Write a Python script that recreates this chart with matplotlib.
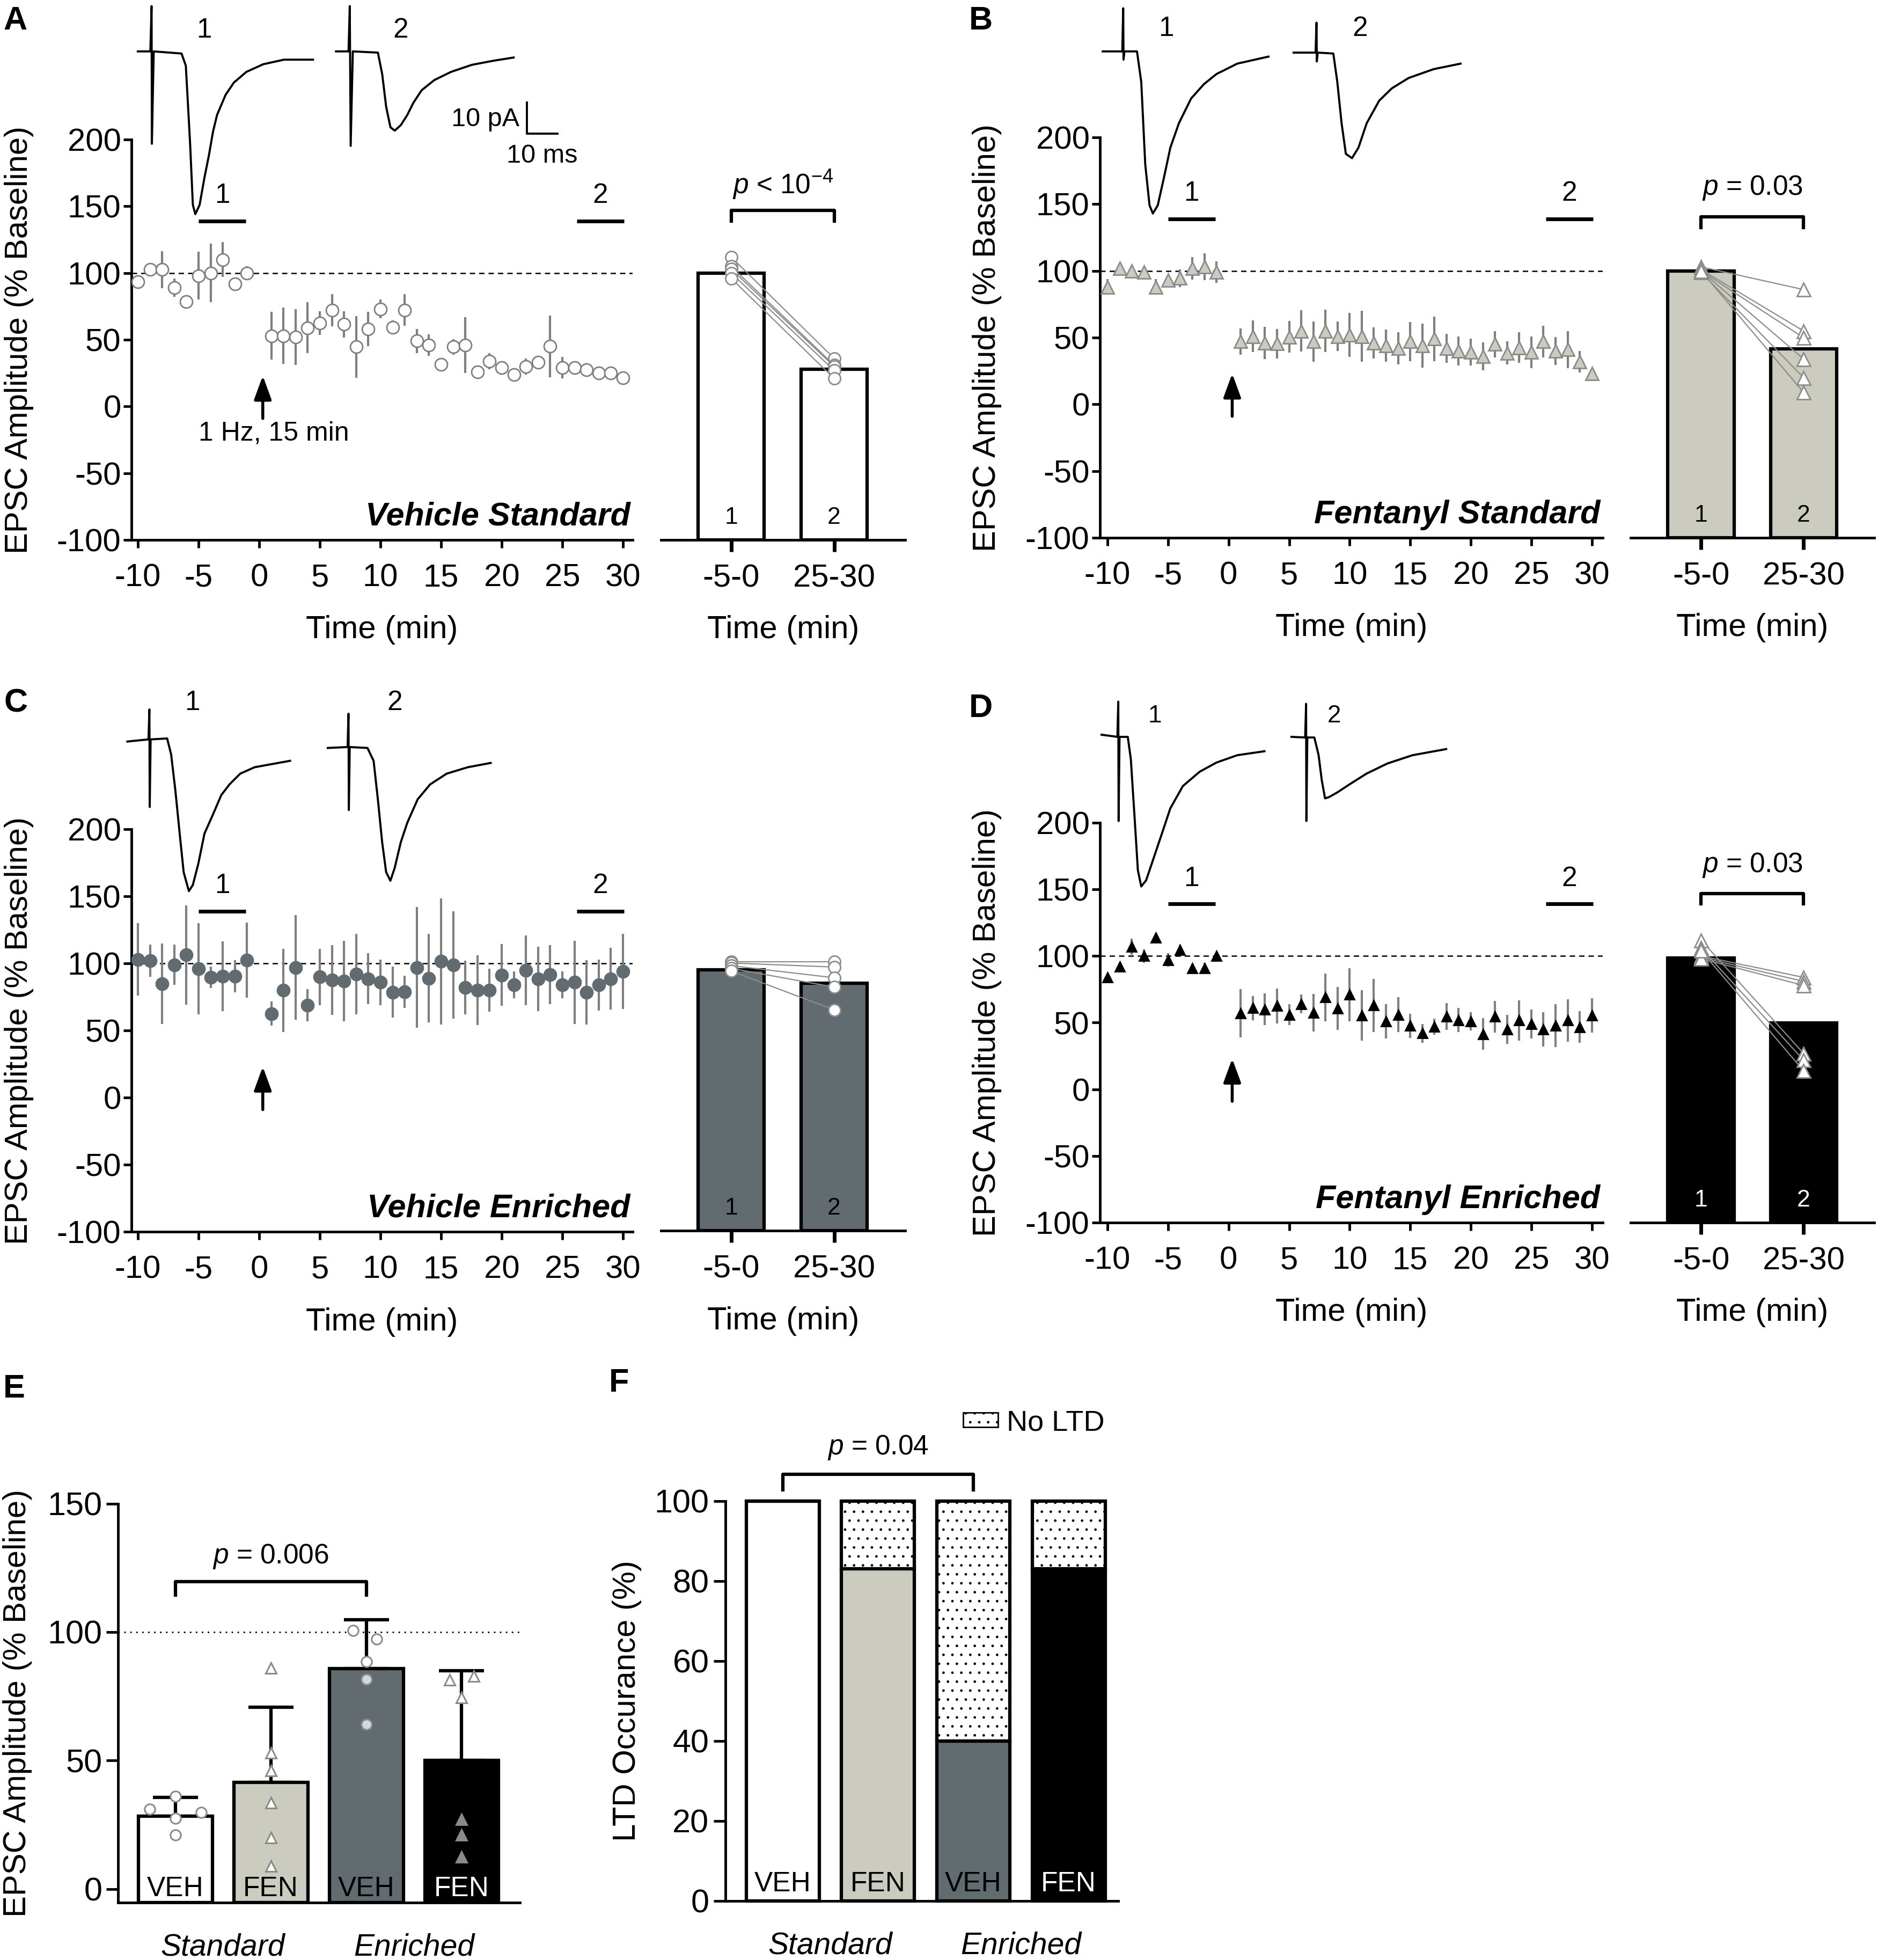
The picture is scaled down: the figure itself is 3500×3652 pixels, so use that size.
import numpy as np
import matplotlib
matplotlib.use('Agg')
import matplotlib.pyplot as plt
from matplotlib.patches import Patch
from matplotlib.transforms import blended_transform_factory

plt.rcParams['font.family'] = ['Liberation Sans', 'DejaVu Sans']
plt.rcParams['mathtext.fontset'] = 'custom'
plt.rcParams['mathtext.rm'] = 'Liberation Sans'
plt.rcParams['mathtext.it'] = 'Liberation Sans:italic'
plt.rcParams['axes.unicode_minus'] = False

# ---------------- data ----------------
times = list(range(-10, 0)) + list(range(1, 31))

A_mean = [93.5, 102.5, 102.5, 89, 78.5, 98, 100, 110, 92, 100,
          53, 53, 52, 59, 62.5, 72, 61.5, 44.6, 58, 73, 59.4, 72.3, 49, 46, 31.4,
          44.6, 46, 26, 34, 29, 24, 30, 33, 45, 29, 29, 27.5, 25, 25, 21.5]
A_sem = [2, 2, 14, 7, 2, 18, 22, 13, 2, 5,
         18, 21, 21, 19, 9, 12, 10, 23, 13, 7, 5, 12, 9, 8, 5,
         6, 21, 4, 6, 4, 3, 6, 2, 23, 8, 4, 3, 5, 4, 4]
B_mean = [88, 102, 100, 99, 88, 93, 94.5, 102, 103, 99,
          47, 51, 46, 45.4, 50.6, 55, 47, 55, 51, 52, 51, 46, 44, 42, 47,
          44, 49, 42, 40, 39, 36, 45, 38.5, 42.5, 39, 47, 40, 41, 32, 23]
B_sem = [6, 2, 2, 2, 6, 3, 6.5, 8.5, 10, 8,
         10, 12, 12, 11, 12, 15.5, 15, 16, 11, 16.5, 19, 11.5, 12, 12, 14.5,
         16.5, 16.5, 11, 11, 10, 10.5, 10, 8.5, 11.5, 12, 12, 10.5, 14, 8, 1]
C_mean = [103, 102, 85, 99, 106.4, 96, 89.5, 90.5, 90.5, 102.5,
          62.6, 80, 97, 69, 90, 87.5, 87, 92, 88.5, 86, 78.5, 79, 97, 89, 101.6,
          99, 82, 80, 80, 91.4, 84, 95, 88.5, 91.5, 84, 86, 78.5, 84, 88.5, 94]
C_sem = [27, 12, 30, 15, 37, 34, 8, 26, 12, 28,
         9, 31, 39, 12, 21, 26, 30, 30, 19, 17, 19, 12, 45, 33, 47,
         40, 20, 26, 16, 23, 10, 26, 24, 22, 10, 31, 24, 19, 23, 28]
D_mean = [84, 92, 107, 100, 114, 97, 104.6, 91, 91, 100,
          57, 61, 60, 62.5, 56, 64, 57.5, 69, 60.6, 71, 55.4, 63, 51, 56, 47.7,
          42, 47, 54.5, 52, 51, 41.5, 54.5, 45, 51.7, 49, 45, 47.7, 51.7, 46.7, 55.4]
D_sem = [3, 3, 6, 5, 3, 5, 4, 3, 4, 3,
         18, 9, 12, 13, 8, 7, 14, 18, 16, 20, 19, 20, 13, 13, 9,
         7, 6, 10, 9, 7, 12, 12, 11, 15, 11, 13, 16, 16, 12, 13]

# example EPSC traces (ms, pA)
trace_A1 = [(1.2, -16.8), (5.3, -16.8), (5.7, -2), (5.8, -47), (6.4, -16.8), (15.5, -17.5), (16.9, -21.5),
            (18.3, -47), (19.2, -67), (20.0, -70), (21.4, -67), (23.0, -58), (24.4, -51), (25.8, -43),
            (27.1, -37.6), (29.9, -31), (32.6, -27), (36.7, -23.5), (42.2, -21), (49.0, -19.5), (58.5, -19.5)]
trace_A2 = [(66.0, -16.8), (70.1, -16.8), (70.5, -2), (70.8, -47.7), (71.5, -16.8), (79.7, -17.2), (81.1, -24.2),
            (82.4, -34.9), (83.8, -41.6), (85.2, -42.7), (87.2, -40.9), (89.3, -37.6), (91.3, -33.6), (94.0, -29.5),
            (98.1, -26.2), (103.6, -23.5), (110.4, -21.2), (117.2, -19.9), (124.1, -18.8)]
trace_B1 = [(0.9, -16.8), (7.3, -16.8), (7.6, -2.7), (7.7, -19.5), (8.0, -16.8), (12.1, -16.8), (13.5, -26.8),
            (14.8, -53.7), (16.2, -67.1), (17.3, -69.8), (18.9, -67.1), (21.0, -57.7), (23.0, -48.3), (25.8, -40.3),
            (29.8, -32.2), (34.0, -27.5), (38.1, -24.2), (44.9, -20.8), (55.1, -18.5)]
trace_B2 = [(63.3, -17.2), (70.5, -17.2), (70.8, -7.4), (70.9, -20.1), (71.2, -17.2), (76.3, -17.5), (77.6, -26.8),
            (79.0, -40.3), (80.4, -50.3), (82.4, -51.7), (84.5, -48.3), (87.2, -40.3), (91.3, -32.9), (95.4, -28.9),
            (100.9, -25.5), (109.1, -22.6), (117.9, -20.8)]
trace_C1 = [(1.3, -23.1), (8.2, -22.4), (8.5, -12.6), (8.6, -44.5), (8.9, -22.4), (14.3, -22.1), (15.6, -27.3),
            (17.0, -39.2), (18.4, -53.2), (19.7, -65.8), (21.4, -72), (22.7, -70), (24.5, -63), (26.5, -53.2),
            (29.3, -46.9), (32.0, -40.6), (34.7, -37.1), (38.2, -33.6), (42.9, -31.5), (48.4, -30.5), (54.5, -29.4)]
trace_C2 = [(66.8, -25.2), (73.3, -24.9), (73.6, -14), (73.7, -45.5), (74.0, -24.9), (79.8, -25.2), (81.8, -29.4),
            (83.2, -42), (84.6, -56), (85.9, -65.8), (87.3, -68.6), (88.7, -64.4), (90.7, -56), (92.8, -49.7),
            (96.2, -42), (100.3, -37.1), (105.7, -33.6), (112.6, -31.5), (120.1, -30.1)]
trace_D1 = [(4.0, -12.1), (9.2, -12.8), (9.5, -1.3), (9.6, -40.3), (9.9, -12.8), (12.6, -12.8), (13.6, -20.1),
            (14.9, -40.3), (15.9, -56.4), (17.0, -61.7), (18.6, -59.7), (21.1, -52.3), (23.8, -44.3), (26.5, -36.2),
            (30.6, -28.9), (36.1, -24.2), (41.6, -21.2), (48.4, -18.8), (57.3, -17.5)]
trace_D2 = [(66.1, -12.8), (70.6, -13), (70.9, -2), (71.0, -40.3), (71.3, -13), (73.6, -13), (75.0, -18.8),
            (76.0, -26.8), (77.1, -32.9), (78.4, -32.5), (81.2, -30.9), (85.3, -28.2), (90.7, -24.8), (97.5, -21.5),
            (105.7, -18.8), (116.7, -16.8)]

# per-cell summary bars (-5-0 vs 25-30)
bar_labels = ['-5-0', '25-30']
A_bar = [100, 28]
A_pre = [112, 105, 103, 100, 96]
A_post = [36, 31, 30, 27, 21]
B_bar = [100, 41.6]
B_pre = [103, 101, 100, 100, 99, 100]
B_post = [86, 55, 50, 34, 20, 9]
C_bar = [94.8, 85]
C_pre = [101, 100, 98, 96, 94]
C_post = [101, 97, 89, 82, 65]
D_bar = [98.5, 50]
D_pre = [100, 99, 98, 112, 106, 104]
D_post = [84, 81, 78, 27, 22, 14]

# panel E
E_groups = ['VEH', 'FEN', 'VEH', 'FEN']
E_mean = [28.3, 41.4, 85.8, 50]
E_sd = [7.4, 29.4, 18.9, 35]
E_points = [[31, 36, 27.4, 29.7, 21],
            [86, 53, 46, 33.6, 19.9, 9],
            [100.6, 97.3, 88.6, 81.6, 64],
            [81.3, 82.8, 74.5, 27, 21, 12.5]]
E_jitter = [[-0.27, 0, 0, 0.27, 0],
            [0, 0, 0, 0, 0, 0],
            [-0.14, 0.11, 0, 0, 0],
            [-0.125, 0.125, 0, 0, 0, 0]]

# panel F
F_groups = ['VEH', 'FEN', 'VEH', 'FEN']
F_ltd = [100, 83, 40, 83]
F_noltd = [100 - v for v in F_ltd]
housing = ['Standard', 'Enriched']

# ---------------- styling ----------------
W, H = 3500, 3652
fig = plt.figure(figsize=(W / 100, H / 100), dpi=100)
c_white, c_tan, c_slate, c_black = 'white', '#cbccbf', '#616b70', 'black'
gray = '#7f7f7f'
FS = 43
SW = 3.5
BW = 4.5  # bar edge width


def box(l, t, r, b):
    ax = fig.add_axes([l / W, 1 - b / H, (r - l) / W, (b - t) / H])
    ax.patch.set_alpha(0)
    return ax


def style_spines(ax, left=True):
    for s in ['top', 'right']:
        ax.spines[s].set_visible(False)
    ax.spines['left'].set_visible(left)
    for s in ['left', 'bottom']:
        ax.spines[s].set_linewidth(SW)


def time_course(ax, xlim, mean, sem, mk, ms, mfc, mec, name, stim_text=None):
    ax.errorbar(times, mean, yerr=sem, fmt='none', ecolor=gray, elinewidth=3, capsize=0, zorder=2)
    ax.plot(times, mean, ls='none', marker=mk, ms=ms, mfc=mfc, mec=mec, mew=2, zorder=3)
    ax.axhline(100, color='black', lw=1.8, ls=(0, (4, 3)), zorder=1)
    ax.set_xlim(*xlim)
    ax.set_ylim(-100, 200)
    ax.set_xticks(range(-10, 31, 5))
    ax.set_yticks(range(-100, 201, 50))
    style_spines(ax)
    ax.tick_params(axis='both', width=SW, length=11, labelsize=FS)
    ax.tick_params(axis='x', pad=20)
    ax.tick_params(axis='y', pad=3)
    ax.set_xlabel('Time (min)', fontsize=FS)
    ax.set_ylabel('EPSC Amplitude (% Baseline)', fontsize=FS)
    ax.xaxis.set_label_coords(0.5, -0.188)
    ax.yaxis.set_label_coords(-0.195, 0.5)
    # analysis windows
    for (x0, x1), lab in zip([(-5, -1.1), (26.2, 30.1)], ['1', '2']):
        ax.plot([x0, x1], [139, 139], color='black', lw=5, solid_capstyle='butt')
        ax.text((x0 + x1) / 2, 158, lab, ha='center', va='center', fontsize=37)
    ax.annotate('', xy=(0.3, 23), xytext=(0.3, -9),
                arrowprops=dict(arrowstyle='-|>,head_length=0.9,head_width=0.33', color='black',
                                lw=4, shrinkA=0, shrinkB=0, mutation_scale=30))
    if stim_text:
        ax.text(1.2, -20, stim_text, ha='center', va='center', fontsize=36)
    ax.text(xlim[1] - 0.2, -89, name, ha='right', va='baseline', fontsize=44,
            fontweight='bold', fontstyle='italic')


def bar_panel(ax, xlim, means, pre, post, mk, ms, fill, numcolor, ptext=None, py=147, ty=166):
    base = -100
    ax.bar([0, 1], [m - base for m in means], bottom=base, width=0.645, color=fill,
           edgecolor='black', lw=BW, zorder=2)
    for a, b in zip(pre, post):
        ax.plot([0, 1], [a, b], color='#8c8c8c', lw=1.6, zorder=3)
    ax.plot([0] * len(pre), pre, ls='none', marker=mk, ms=ms, mfc='white', mec='#8c8c8c', mew=2, zorder=4)
    ax.plot([1] * len(post), post, ls='none', marker=mk, ms=ms, mfc='white', mec='#8c8c8c', mew=2, zorder=4)
    for i, lab in enumerate(['1', '2']):
        ax.text(i, -88, lab, ha='center', va='baseline', fontsize=32, color=numcolor, zorder=5)
    if ptext:
        ax.plot([0, 0, 1, 1], [py - 8, py, py, py - 8], color='black', lw=4.5, clip_on=False)
        ax.text(0.5, ty, ptext, ha='center', va='center', fontsize=37)
    ax.set_xlim(*xlim)
    ax.set_ylim(-100, 200)
    style_spines(ax, left=False)
    ax.set_yticks([])
    ax.set_xticks([0, 1])
    ax.set_xticklabels(bar_labels)
    ax.tick_params(axis='x', width=5, length=16, labelsize=FS, pad=16)
    ax.set_xlabel('Time (min)', fontsize=FS)
    ax.xaxis.set_label_coords(0.5, -0.188)


PX = 5.7  # pixels per ms / per pA in the traces


def traces(l, t, tr1, tr2, lab_pos, scalebar=False, lab_fs=37):
    ax = box(l, t, l + 1000, t + 450)
    ax.set_xlim(0, 1000 / PX)
    ax.set_ylim(-450 / PX, 0)
    ax.axis('off')
    for tr in (tr1, tr2):
        x, y = zip(*tr)
        ax.plot(x, y, color='black', lw=2.8, solid_joinstyle='round')
    for (x, y), lab in zip(lab_pos, ['1', '2']):
        ax.text(x, y, lab, ha='center', va='center', fontsize=lab_fs)
    if scalebar:
        ax.plot([128.4, 128.4, 138.4], [-33.5, -43.6, -43.6], color='black', lw=2.8)
        ax.text(126, -39, '10 pA', ha='right', va='center', fontsize=35)
        ax.text(133.3, -51, '10 ms', ha='center', va='center', fontsize=35)


# ---- A ----
time_course(box(245, 260, 1179, 1006), (-10.53, 30.8), A_mean, A_sem, 'o', 16.5, 'white', gray,
            'Vehicle Standard', '1 Hz, 15 min')
bar_panel(box(1232, 260, 1687, 1006), (-0.68, 1.69), A_bar, A_pre, A_post, 'o', 16, c_white, 'black',
          r'$p$ < 10$^{-4}$', 147, 166)
traces(250, 0, trace_A1, trace_A2, [(22.8, -10), (87.2, -10)], scalebar=True)

# ---- B ----
time_course(box(2050, 256, 2987, 1002), (-10.62, 30.9), B_mean, B_sem, '^', 17, c_tan, '#8a8a8a',
            'Fentanyl Standard')
bar_panel(box(3039, 256, 3493, 1002), (-0.686, 1.69), B_bar, B_pre, B_post, '^', 18, c_tan, 'black',
          r'$p$ = 0.03', 140.5, 162)
traces(2050, 0, trace_B1, trace_B2, [(21.7, -9.4), (85.1, -9.4)])

# ---- C ----
time_course(box(245, 1545, 1179, 2295), (-10.53, 30.8), C_mean, C_sem, 'o', 16.5, c_slate, c_slate,
            'Vehicle Enriched')
bar_panel(box(1232, 1545, 1687, 2293), (-0.68, 1.69), C_bar, C_pre, C_post, 'o', 16, c_slate, 'black')
traces(230, 1250, trace_C1, trace_C2, [(22.5, -10.5), (88.7, -10.5)])

# ---- D ----
time_course(box(2050, 1533, 2987, 2278), (-10.62, 30.9), D_mean, D_sem, '^', 13.5, 'black', 'black',
            'Fentanyl Enriched')
bar_panel(box(3039, 1533, 3493, 2278), (-0.686, 1.69), D_bar, D_pre, D_post, '^', 18, c_black, 'white',
          r'$p$ = 0.03', 147, 168)
traces(2030, 1300, trace_D1, trace_D2, [(21.4, -6), (80.1, -6)], lab_fs=33)

# ---- E ----
axE = box(220, 2801.6, 969, 3545)
E_ybot = -5.3
E_x = np.arange(len(E_mean))
E_colors = [c_white, c_tan, c_slate, c_black]
E_inner = ['white', 'white', '#d6d9db', '#8a8a8a']
E_marker = ['o', '^', 'o', '^']
axE.bar(E_x, [m - E_ybot for m in E_mean], bottom=E_ybot, width=0.775, color=E_colors,
        edgecolor='black', lw=BW, zorder=2)
axE.errorbar(E_x, E_mean, yerr=[np.zeros(len(E_sd)), E_sd], fmt='none', ecolor='black',
             elinewidth=4.5, capsize=30, capthick=4.5, zorder=1)
for i, (vals, offs) in enumerate(zip(E_points, E_jitter)):
    for v, o in zip(vals, offs):
        face = E_inner[i] if v < E_mean[i] else 'white'
        axE.plot(i + o, v, marker=E_marker[i], ms=14, mfc=face, mec='#8a8a8a', mew=2.2, zorder=4)
for i, g in enumerate(E_groups):
    axE.text(i, -2.8, g, ha='center', va='baseline', fontsize=37,
             color='white' if i == 3 else 'black', zorder=5)
axE.axhline(100, color='black', lw=2, ls=(0, (1, 3)), zorder=1)
axE.plot([0, 0, 2, 2], [114.5, 119.7, 119.7, 114.5], color='black', lw=4.5)
axE.text(1, 129.5, r'$p$ = 0.006', ha='center', va='center', fontsize=37)
axE.set_xlim(-0.6, 3.61)
axE.set_ylim(E_ybot, 150)
axE.set_yticks([0, 50, 100, 150])
axE.set_xticks([])
style_spines(axE)
axE.tick_params(axis='y', width=SW, length=16, labelsize=44, pad=5)
axE.set_ylabel('EPSC Amplitude (% Baseline)', fontsize=FS)
axE.yaxis.set_label_coords(-0.213, 0.5)
trE = blended_transform_factory(axE.transData, axE.transAxes)
for xc, lab in zip([0.5, 2.5], housing):
    axE.text(xc, -0.112, lab, transform=trE, ha='center', va='center', fontsize=41, fontstyle='italic')

# ---- F ----
axF = box(1352, 2796.5, 2084, 3541.7)
F_x = np.arange(len(F_ltd))
b1 = axF.bar(F_x, F_ltd, width=0.765, color=E_colors, edgecolor='black', lw=BW, zorder=2)
b2 = axF.bar(F_x, F_noltd, bottom=F_ltd, width=0.765, color='white', edgecolor='black',
             hatch='.', lw=BW, zorder=2)
for p in list(b1) + list(b2):
    p.set_clip_on(False)
for i, g in enumerate(F_groups):
    axF.text(i, 2.4, g, ha='center', va='baseline', fontsize=37,
             color='white' if i == 3 else 'black', zorder=5)
axF.plot([0, 0, 2, 2], [102.8, 106.6, 106.6, 102.8], color='black', lw=4.5, clip_on=False)
axF.text(1, 113.4, r'$p$ = 0.04', ha='center', va='center', fontsize=37)
axF.set_xlim(-0.6, 3.52)
axF.set_ylim(0, 100)
axF.set_yticks(range(0, 101, 20))
axF.set_xticks([])
style_spines(axF)
axF.tick_params(axis='y', width=SW, length=16, labelsize=44, pad=6)
axF.set_ylabel('LTD Occurance (%)', fontsize=FS)
axF.yaxis.set_label_coords(-0.2135, 0.5)
trF = blended_transform_factory(axF.transData, axF.transAxes)
for xc, lab in zip([0.5, 2.5], housing):
    axF.text(xc, -0.112, lab, transform=trF, ha='center', va='center', fontsize=41, fontstyle='italic')
axF.legend(handles=[Patch(facecolor='white', edgecolor='black', hatch='.', lw=2)], labels=['No LTD'],
           loc='center left', bbox_to_anchor=(1795 / W, 1 - 2651 / H), bbox_transform=fig.transFigure,
           frameon=False, fontsize=39, handlelength=1.2, handleheight=0.4, handletextpad=0.3,
           borderpad=0, borderaxespad=0)

# panel letters
for lab, (x, y) in zip('ABCDEF', [(6, 11), (1806, 11), (8, 1282), (1806, 1292), (6, 2560), (1135, 2549)]):
    fig.text(x / W, 1 - y / H, lab, ha='left', va='top', fontsize=44, fontweight='bold')

fig.savefig('out.png', dpi=100)
